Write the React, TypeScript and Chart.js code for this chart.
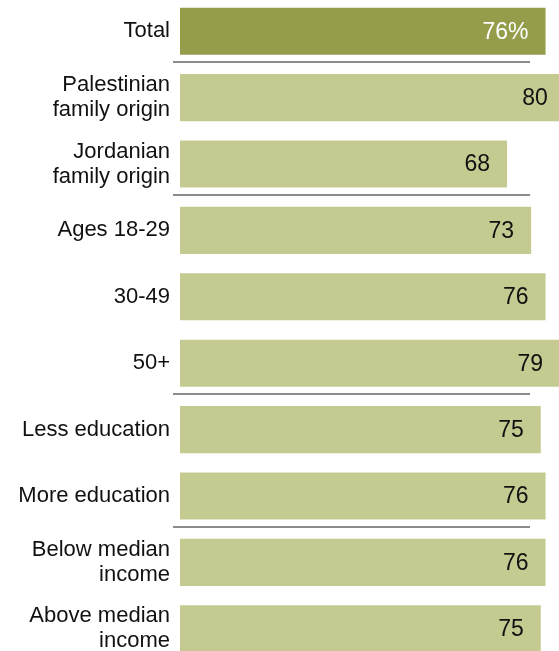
import React, { useEffect, useRef } from "react";
import { Chart, registerables } from "chart.js";

Chart.register(...registerables);

const categories: (string | string[])[] = [
  "Total",
  ["Palestinian", "family origin"],
  ["Jordanian", "family origin"],
  "Ages 18-29",
  "30-49",
  "50+",
  "Less education",
  "More education",
  ["Below median", "income"],
  ["Above median", "income"],
];
const values: number[] = [76, 80, 68, 73, 76, 79, 75, 76, 76, 75];
const valueLabels: string[] = ["76%", "80", "68", "73", "76", "79", "75", "76", "76", "75"];
const separatorsAfter: number[] = [0, 2, 5, 7];

const DARK = "#959d4b";
const LIGHT = "#c5cb90";
const FONT = "'Liberation Sans', Arial, sans-serif";

export default function App() {
  const ref = useRef<HTMLCanvasElement | null>(null);

  useEffect(() => {
    if (!ref.current) return;
    const overlay = {
      id: "overlay",
      afterDatasetsDraw(chart: any) {
        const ctx = chart.ctx;
        const y = chart.scales.y;
        const area = chart.chartArea;
        ctx.save();
        // separators
        ctx.strokeStyle = "#8c8c8c";
        ctx.lineWidth = 2;
        separatorsAfter.forEach((i) => {
          const yy = Math.round((y.getPixelForValue(i) + y.getPixelForValue(i + 1)) / 2 - 2.5);
          ctx.beginPath();
          ctx.moveTo(area.left - 7, yy);
          ctx.lineTo(area.left + 350, yy);
          ctx.stroke();
        });
        // value labels
        ctx.font = `23px ${FONT}`;
        ctx.textAlign = "right";
        ctx.textBaseline = "middle";
        const meta = chart.getDatasetMeta(0);
        meta.data.forEach((bar: any, i: number) => {
          ctx.fillStyle = i === 0 ? "#ffffff" : "#111111";
          ctx.fillText(valueLabels[i], bar.x - 17, bar.y + 1);
        });
        ctx.restore();
      },
    };
    const chart = new Chart(ref.current, {
      type: "bar",
      data: {
        labels: categories,
        datasets: [
          {
            data: values,
            backgroundColor: values.map((_, i) => (i === 0 ? DARK : LIGHT)),
            borderWidth: 0,
            barPercentage: 0.71,
            categoryPercentage: 1,
          },
        ],
      },
      options: {
        indexAxis: "y",
        animation: false,
        responsive: false,
        maintainAspectRatio: false,
        layout: { padding: 0 },
        plugins: {
          legend: { display: false },
          tooltip: { enabled: false },
        },
        scales: {
          x: {
            min: 0,
            max: 379 / 4.81,
            display: false,
            grid: { display: false },
          },
          y: {
            grid: { display: false, drawTicks: false },
            border: { display: false },
            ticks: {
              color: "#111111",
              padding: 10,
              font: { family: FONT, size: 22, lineHeight: "25px" },
              autoSkip: false,
            },
            afterFit: (scale: any) => {
              scale.width = 180;
              scale.paddingTop = 0;
              scale.paddingBottom = 0;
            },
          },
        },
      },
      plugins: [overlay],
    });
    return () => chart.destroy();
  }, []);

  return (
    <div style={{ position: "absolute", left: 0, top: -2, width: 559, height: 664 }}>
      <canvas ref={ref} width={559} height={664} style={{ display: "block" }} />
    </div>
  );
}
